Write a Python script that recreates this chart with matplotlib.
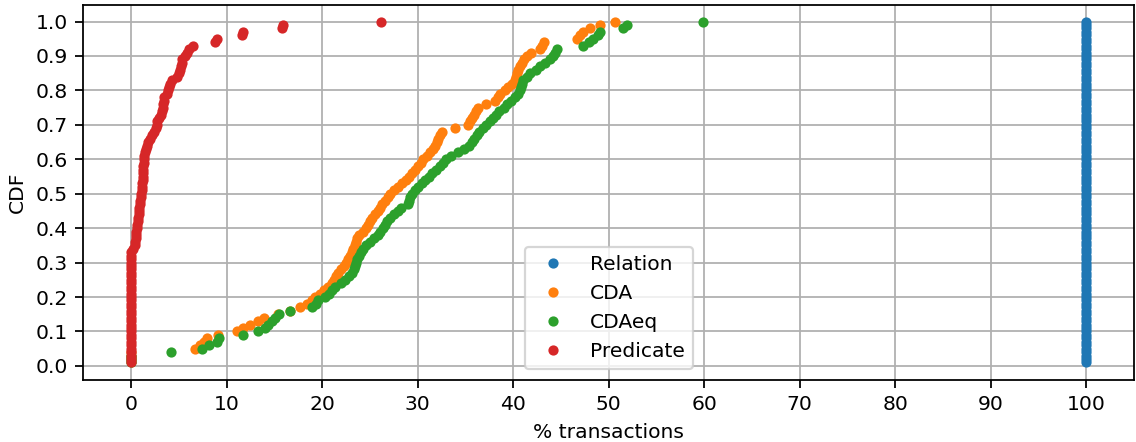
import numpy as np
import matplotlib
matplotlib.use('Agg')
import matplotlib.pyplot as plt

# =====================================================================================================================#
# DATA: % transactions per run, one value per run
# =====================================================================================================================#
relation = [100.0] * 100

cda = [0, 0, 0, 0, 6.7, 7.2, 7.6, 7.9, 9.1, 11.1,
       11.7, 12.4, 13.3, 13.9, 15.4, 16.6, 17.7, 18.4, 18.9, 19.2,
       19.8, 20.2, 20.6, 21.0, 21.2, 21.4, 21.7, 22.0, 22.3, 22.5,
       22.7, 22.9, 23.1, 23.2, 23.4, 23.5, 23.6, 23.8, 24.3, 24.6,
       24.8, 25.0, 25.2, 25.5, 25.8, 26.0, 26.3, 26.6, 26.9, 27.1,
       27.5, 27.9, 28.4, 28.8, 29.1, 29.4, 29.7, 30.0, 30.3, 30.6,
       31.0, 31.3, 31.6, 31.8, 32.0, 32.1, 32.3, 32.5, 33.9, 35.3,
       35.5, 35.7, 35.9, 36.1, 36.3, 37.1, 38.1, 38.4, 38.6, 39.1,
       39.5, 39.9, 40.2, 40.3, 40.4, 40.5, 40.7, 40.9, 41.1, 41.4,
       41.9, 42.8, 43.0, 43.2, 46.7, 47.0, 47.3, 48.0, 49.1, 50.7]

cda_eq = [0, 0, 0, 4.2, 7.4, 8.1, 9.0, 9.2, 11.7, 13.3,
          14.0, 14.3, 14.7, 15.1, 15.5, 16.6, 18.9, 19.3, 19.6, 20.3,
          20.7, 21.0, 21.3, 22.0, 22.4, 22.8, 23.1, 23.3, 23.4, 23.5,
          23.6, 23.8, 24.1, 24.3, 24.6, 25.0, 25.4, 25.8, 26.1, 26.4,
          26.6, 26.8, 27.1, 27.5, 27.9, 28.2, 29.0, 29.1, 29.2, 29.4,
          29.7, 30.0, 30.4, 30.8, 31.2, 31.5, 31.9, 32.3, 32.6, 33.0,
          33.5, 34.2, 34.8, 35.4, 35.7, 35.9, 36.2, 36.4, 36.8, 37.1,
          37.6, 37.9, 38.2, 38.5, 39.0, 39.3, 39.8, 40.2, 40.5, 40.7,
          40.8, 40.9, 41.0, 41.4, 41.8, 42.4, 42.8, 43.3, 43.8, 44.2,
          44.4, 44.6, 47.3, 47.9, 48.4, 48.9, 49.1, 51.5, 51.9, 59.9]

predicate = [0] * 33 + [0.2,
             0.35, 0.4, 0.45, 0.5, 0.55, 0.6, 0.65, 0.7, 0.75, 0.78,
             0.8, 0.85, 0.9, 0.95, 1.0, 1.05, 1.1, 1.12,
             1.15, 1.18, 1.2, 1.22, 1.25, 1.27, 1.3, 1.32, 1.35,
             1.45, 1.55, 1.65,
             1.8, 2.0, 2.2,
             2.4, 2.55, 2.65, 2.7,
             2.95,
             3.1, 3.2, 3.3, 3.35, 3.4, 3.45,
             3.7,
             3.9, 4.0, 4.1, 4.3,
             4.8,
             5.0, 5.1, 5.2, 5.3, 5.35,
             5.6, 5.8,
             6.1,
             6.5,
             8.8, 8.95,
             11.6, 11.75,
             15.75, 15.9,
             26.2]

series = [('Relation', relation), ('CDA', cda), ('CDAeq', cda_eq), ('Predicate', predicate)]

# =====================================================================================================================#
# PLOT
# =====================================================================================================================#
plt.rcParams['font.size'] = 9.1

fig, ax = plt.subplots(figsize=(7.1, 2.7625), dpi=160)
fig.subplots_adjust(left=0.0735, right=0.9982, top=0.9898, bottom=0.1414)

for name, values in series:
    x = np.sort(np.asarray(values, dtype=float))
    y = np.arange(1, len(x) + 1) / len(x)  # empirical CDF
    ax.plot(x, y, 'o', markersize=3.6, label=name)

ax.set_xticks(np.arange(0, 101, 10))
ax.set_yticks(np.arange(0, 1.01, 0.1))
ax.set_xlabel('% transactions')
ax.set_ylabel('CDF')
ax.grid(True)
ax.legend(loc='lower center')

plt.savefig('out.png', dpi=160)
